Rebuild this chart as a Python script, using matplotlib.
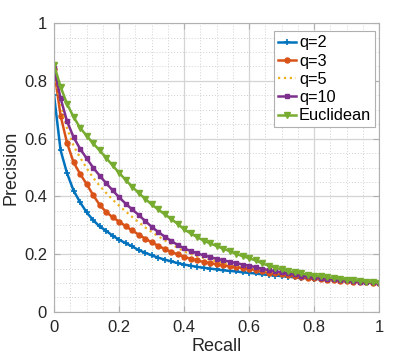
import numpy as np
import matplotlib
matplotlib.use("Agg")
import matplotlib.pyplot as plt
from matplotlib.ticker import MultipleLocator

# recall grid the curves were read at
recall = [0.00, 0.02, 0.04, 0.06, 0.08, 0.10, 0.12, 0.14, 0.16, 0.18,
          0.20, 0.22, 0.24, 0.26, 0.28, 0.30, 0.32, 0.34, 0.36, 0.38,
          0.40, 0.42, 0.44, 0.46, 0.48, 0.50, 0.52, 0.54, 0.56, 0.58,
          0.60, 0.62, 0.64, 0.66, 0.68, 0.70, 0.72, 0.74, 0.76, 0.78,
          0.80, 0.82, 0.84, 0.86, 0.88, 0.90, 0.92, 0.94, 0.96, 0.98, 1.00]

prec_q2 = [0.750, 0.560, 0.480, 0.420, 0.380, 0.345, 0.318, 0.296, 0.281, 0.264,
           0.250, 0.238, 0.227, 0.214, 0.205, 0.196, 0.188, 0.181, 0.175, 0.169,
           0.164, 0.160, 0.156, 0.153, 0.150, 0.147, 0.144, 0.142, 0.140, 0.137,
           0.135, 0.133, 0.130, 0.128, 0.126, 0.124, 0.122, 0.120, 0.118, 0.116,
           0.114, 0.113, 0.111, 0.110, 0.108, 0.107, 0.105, 0.104, 0.102, 0.101, 0.100]

prec_q3 = [0.840, 0.680, 0.585, 0.518, 0.478, 0.443, 0.405, 0.371, 0.346, 0.328,
           0.313, 0.297, 0.282, 0.268, 0.254, 0.241, 0.229, 0.218, 0.208, 0.199,
           0.191, 0.184, 0.178, 0.173, 0.169, 0.165, 0.161, 0.158, 0.155, 0.152,
           0.149, 0.145, 0.140, 0.136, 0.133, 0.130, 0.127, 0.124, 0.121, 0.118,
           0.116, 0.114, 0.112, 0.110, 0.108, 0.106, 0.105, 0.103, 0.102, 0.101, 0.100]

prec_q5 = [0.840, 0.720, 0.635, 0.575, 0.535, 0.498, 0.465, 0.437, 0.412, 0.389,
           0.368, 0.348, 0.329, 0.311, 0.293, 0.277, 0.262, 0.248, 0.236, 0.222,
           0.209, 0.201, 0.193, 0.187, 0.181, 0.175, 0.170, 0.165, 0.161, 0.157,
           0.153, 0.149, 0.145, 0.141, 0.137, 0.134, 0.131, 0.128, 0.125, 0.122,
           0.119, 0.117, 0.114, 0.112, 0.110, 0.108, 0.106, 0.104, 0.103, 0.101, 0.100]

prec_q10 = [0.845, 0.740, 0.660, 0.605, 0.565, 0.532, 0.500, 0.472, 0.446, 0.421,
            0.397, 0.375, 0.355, 0.336, 0.315, 0.295, 0.277, 0.261, 0.246, 0.232,
            0.220, 0.211, 0.203, 0.196, 0.190, 0.184, 0.179, 0.174, 0.169, 0.164,
            0.160, 0.155, 0.149, 0.145, 0.141, 0.137, 0.133, 0.130, 0.126, 0.123,
            0.120, 0.118, 0.115, 0.113, 0.111, 0.109, 0.107, 0.105, 0.103, 0.102, 0.100]

prec_euc = [0.855, 0.780, 0.720, 0.675, 0.638, 0.610, 0.584, 0.559, 0.534, 0.507,
            0.482, 0.457, 0.434, 0.412, 0.392, 0.372, 0.355, 0.338, 0.322, 0.305,
            0.286, 0.272, 0.259, 0.247, 0.237, 0.228, 0.219, 0.210, 0.201, 0.193,
            0.186, 0.178, 0.168, 0.160, 0.153, 0.147, 0.141, 0.137, 0.133, 0.129,
            0.126, 0.123, 0.120, 0.117, 0.115, 0.112, 0.110, 0.108, 0.105, 0.103, 0.101]

labels = ["q=2", "q=3", "q=5", "q=10", "Euclidean"]

plt.rcParams['font.family'] = ['Liberation Sans', 'DejaVu Sans']

fig = plt.figure(figsize=(4.19, 3.61), dpi=100)
ax = fig.add_axes([0.129, 0.136, 0.776, 0.800])

ax.plot(recall, prec_q2, color='#0072BD', lw=1.8, marker='+', ms=4, mew=1.2, label=labels[0])
ax.plot(recall, prec_q3, color='#D95319', lw=1.8, marker='o', ms=3.6, label=labels[1])
ax.plot(recall, prec_q5, color='#EDB120', lw=1.6, ls=':', label=labels[2])
ax.plot(recall, prec_q10, color='#7E2F8E', lw=1.8, marker='s', ms=3.2, label=labels[3])
ax.plot(recall, prec_euc, color='#77AC30', lw=1.8, marker='v', ms=4, label=labels[4])

ax.set_xlim(0, 1)
ax.set_ylim(0, 1)
ax.xaxis.set_major_locator(MultipleLocator(0.2))
ax.yaxis.set_major_locator(MultipleLocator(0.2))
ax.xaxis.set_minor_locator(MultipleLocator(0.05))
ax.yaxis.set_minor_locator(MultipleLocator(0.05))
ax.xaxis.set_major_formatter(plt.FuncFormatter(lambda v, p: '%g' % v))
ax.yaxis.set_major_formatter(plt.FuncFormatter(lambda v, p: '%g' % v))

ax.grid(True, which='major', color='#d4d4d4', lw=0.9)
ax.grid(True, which='minor', color='#d0d0d0', lw=0.7, ls=(0, (1, 2)))
ax.set_axisbelow(True)
for s in ax.spines.values():
    s.set_color('#b0b0b0')
    s.set_linewidth(0.8)
ax.tick_params(which='both', direction='in', colors='#b0b0b0', labelcolor='#262626',
               labelsize=12, top=True, right=True)
ax.tick_params(which='major', length=4)
ax.tick_params(which='minor', length=0)
ax.tick_params(axis='x', pad=6)
ax.tick_params(axis='y', pad=5)

ax.set_xlabel('Recall', fontsize=13, color='#262626', labelpad=2)
ax.set_ylabel('Precision', fontsize=13, color='#262626', labelpad=3)

leg = ax.legend(loc='upper right', bbox_to_anchor=(0.988, 0.972), fontsize=11.8,
                handlelength=1.1, handletextpad=0.15, labelspacing=0.2,
                borderpad=0.25, borderaxespad=0.0, fancybox=False, framealpha=1)
leg.get_frame().set_edgecolor('#b0b0b0')
leg.get_frame().set_linewidth(0.8)

fig.savefig('out.png', dpi=100)
